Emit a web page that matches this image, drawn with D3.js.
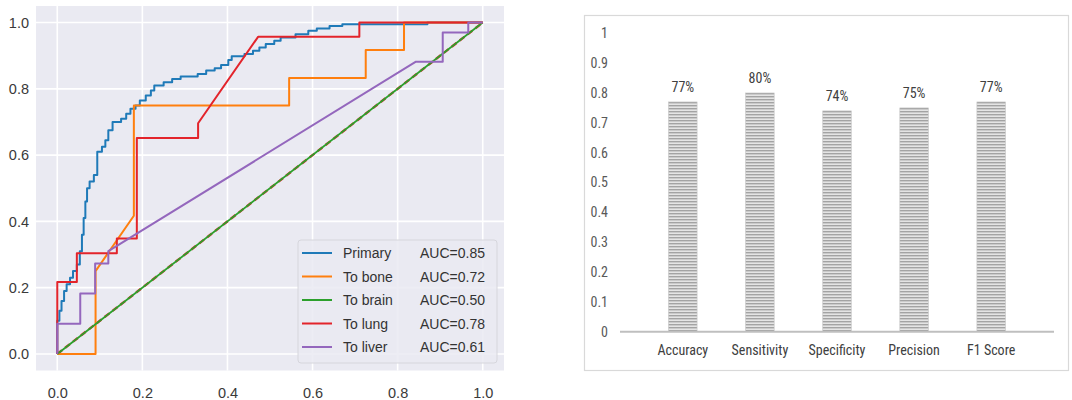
<!DOCTYPE html>
<html>
<head>
<meta charset="utf-8">
<script src="https://cdn.jsdelivr.net/npm/d3@7"></script>
<style>
  html, body { margin: 0; padding: 0; background: #fff; }
  svg { display: block; }
</style>
</head>
<body>
<svg id="chart" width="1072" height="400"></svg>
<script>
// ROC panel data (fpr, tpr corners)
const rocNames = ['Primary', 'To bone', 'To brain', 'To lung', 'To liver'];
const rocAuc = ['AUC=0.85', 'AUC=0.72', 'AUC=0.50', 'AUC=0.78', 'AUC=0.61'];

const primaryRoc = [
  [0,0],[0,0.10],[0.005,0.10],[0.005,0.13],[0.01,0.13],[0.01,0.16],[0.016,0.16],[0.016,0.19],
  [0.022,0.19],[0.022,0.21],[0.03,0.21],[0.03,0.23],[0.037,0.23],[0.037,0.25],[0.046,0.25],
  [0.046,0.27],[0.053,0.27],[0.053,0.31],[0.058,0.31],[0.058,0.36],[0.062,0.36],[0.062,0.41],
  [0.066,0.41],[0.066,0.46],[0.07,0.46],[0.07,0.50],[0.076,0.50],[0.076,0.52],[0.086,0.52],
  [0.086,0.54],[0.094,0.54],[0.094,0.61],[0.105,0.61],[0.105,0.625],[0.113,0.625],[0.113,0.645],
  [0.12,0.645],[0.12,0.675],[0.13,0.675],[0.13,0.70],[0.15,0.70],[0.15,0.71],[0.162,0.71],
  [0.162,0.725],[0.172,0.725],[0.172,0.74],[0.184,0.74],[0.184,0.75],[0.194,0.75],[0.194,0.765],
  [0.208,0.765],[0.208,0.78],[0.22,0.78],[0.22,0.795],[0.228,0.795],[0.228,0.81],[0.25,0.81],
  [0.25,0.82],[0.27,0.82],[0.27,0.83],[0.29,0.83],[0.29,0.837],[0.33,0.837],[0.33,0.845],
  [0.35,0.845],[0.35,0.855],[0.37,0.855],[0.37,0.862],[0.385,0.862],[0.385,0.872],[0.402,0.872],
  [0.402,0.887],[0.41,0.887],[0.41,0.898],[0.44,0.898],[0.44,0.905],[0.46,0.905],[0.46,0.915],
  [0.475,0.915],[0.475,0.925],[0.49,0.925],[0.49,0.935],[0.51,0.935],[0.51,0.945],[0.525,0.945],
  [0.525,0.955],[0.56,0.955],[0.56,0.965],[0.59,0.965],[0.59,0.975],[0.61,0.975],[0.61,0.982],
  [0.64,0.982],[0.64,0.99],[0.67,0.99],[0.67,0.995],[0.87,0.995],[0.87,1],[1,1]
];
const boneRoc = [
  [0,0],[0.09,0],[0.09,0.25],[0.18,0.417],[0.18,0.75],[0.545,0.75],[0.545,0.833],
  [0.725,0.833],[0.725,0.917],[0.815,0.917],[0.815,1],[1,1]
];
const brainRoc = [[0,0],[1,1]];
const lungRoc = [
  [0,0],[0,0.217],[0.046,0.217],[0.046,0.304],[0.14,0.304],[0.14,0.348],[0.187,0.348],
  [0.187,0.652],[0.331,0.652],[0.331,0.696],[0.472,0.957],[0.71,0.957],[0.71,1],[1,1]
];
const liverRoc = [
  [0,0],[0,0.091],[0.054,0.091],[0.054,0.182],[0.089,0.182],[0.089,0.273],[0.12,0.273],
  [0.12,0.31],[0.843,0.882],[0.906,0.882],[0.906,0.97],[0.966,0.97],[0.966,1],[1,1]
];
const chanceLine = [[0,0],[1,1]];
const rocTicks = [0, 0.2, 0.4, 0.6, 0.8, 1.0];

// Metrics panel data
const metricNames = ['Accuracy', 'Sensitivity', 'Specificity', 'Precision', 'F1 Score'];
const metricValues = [0.77, 0.80, 0.74, 0.75, 0.77];
const metricLabels = ['77%', '80%', '74%', '75%', '77%'];

const rocColors = ['#1f7ab8', '#ff7f0e', '#2ca02c', '#e3242b', '#9467bd'];
const rocData = [primaryRoc, boneRoc, brainRoc, lungRoc, liverRoc];

const svg = d3.select('#chart');

// ---------- left: ROC curves ----------
const x = d3.scaleLinear().domain([-0.05, 1.05]).range([36, 504]);
const y = d3.scaleLinear().domain([-0.05, 1.05]).range([370.5, 6]);

const left = svg.append('g');
left.append('rect')
  .attr('x', x(-0.05)).attr('y', y(1.05))
  .attr('width', x(1.05) - x(-0.05)).attr('height', y(-0.05) - y(1.05))
  .attr('fill', '#eaeaf2');

// grid
left.append('g').selectAll('line').data(rocTicks).join('line')
  .attr('x1', d => x(d)).attr('x2', d => x(d))
  .attr('y1', y(1.05)).attr('y2', y(-0.05))
  .attr('stroke', '#fff').attr('stroke-width', 1.6);
left.append('g').selectAll('line').data(rocTicks).join('line')
  .attr('y1', d => y(d)).attr('y2', d => y(d))
  .attr('x1', x(-0.05)).attr('x2', x(1.05))
  .attr('stroke', '#fff').attr('stroke-width', 1.6);

const tickFont = 'Liberation Sans, Arial, sans-serif';
const xAxis = left.append('g')
  .attr('transform', `translate(0,${y(-0.05)})`)
  .call(d3.axisBottom(x).tickValues(rocTicks).tickFormat(d3.format('.1f')).tickSize(0).tickPadding(17));
const yAxis = left.append('g')
  .attr('transform', `translate(${x(-0.05)},0)`)
  .call(d3.axisLeft(y).tickValues(rocTicks).tickFormat(d3.format('.1f')).tickSize(0).tickPadding(7));
[xAxis, yAxis].forEach(a => {
  a.select('.domain').remove();
  a.selectAll('text').attr('font-family', tickFont).attr('font-size', 14.5).attr('fill', '#3a3a3a');
});

const line = d3.line().x(d => x(d[0])).y(d => y(d[1]));
const curves = left.append('g');

// chance line under the brain curve
curves.append('path')
  .attr('d', line(chanceLine))
  .attr('fill', 'none').attr('stroke', '#e3242b')
  .attr('stroke-width', 2.4).attr('stroke-dasharray', '6,4');

rocData.forEach((pts, i) => {
  curves.append('path')
    .attr('d', line(pts))
    .attr('fill', 'none')
    .attr('stroke', rocColors[i])
    .attr('stroke-width', i === 2 ? 1.8 : 2)
    .attr('stroke-linejoin', 'round');
});

// legend
const lg = left.append('g').attr('transform', 'translate(298,240)');
lg.append('rect')
  .attr('width', 199).attr('height', 123).attr('rx', 3)
  .attr('fill', '#eaeaf2').attr('fill-opacity', 0.85)
  .attr('stroke', '#d6d6dc').attr('stroke-width', 1);
rocNames.forEach((name, i) => {
  const row = lg.append('g').attr('transform', `translate(0,${13 + i * 23.5})`);
  row.append('line')
    .attr('x1', 4).attr('x2', 34).attr('y1', 0).attr('y2', 0)
    .attr('stroke', rocColors[i]).attr('stroke-width', 2);
  row.append('text')
    .attr('x', 45).attr('y', 5)
    .attr('font-family', tickFont).attr('font-size', 14).attr('fill', '#333')
    .text(name);
  row.append('text')
    .attr('x', 187).attr('y', 5).attr('text-anchor', 'end')
    .attr('font-family', tickFont).attr('font-size', 14).attr('fill', '#333')
    .text(rocAuc[i]);
});

// ---------- right: metrics bar chart ----------
const right = svg.append('g');
right.append('rect')
  .attr('x', 584.5).attr('y', 15.5).attr('width', 484).attr('height', 355)
  .attr('fill', '#fff').attr('stroke', '#d9d9d9').attr('stroke-width', 1.2);

const defs = svg.append('defs');
const pat = defs.append('pattern')
  .attr('id', 'hatch').attr('patternUnits', 'userSpaceOnUse')
  .attr('width', 6).attr('height', 3);
pat.append('rect').attr('width', 6).attr('height', 3).attr('fill', '#e4e4e4');
pat.append('rect').attr('width', 6).attr('height', 1.4).attr('fill', '#a3a3a3');

const bx = d3.scaleBand().domain(metricNames).range([620, 1054]).padding(0.63);
const by = d3.scaleLinear().domain([0, 1]).range([331.7, 33.3]);

const barFont = '"Liberation Sans Narrow", "Roboto Condensed", "DejaVu Sans Condensed", Arial, sans-serif';

const byAxis = right.append('g')
  .attr('transform', 'translate(608,0)')
  .call(d3.axisLeft(by).ticks(10).tickFormat(d3.format('~g')).tickSize(0).tickPadding(0));
byAxis.select('.domain').remove();
byAxis.selectAll('text').attr('font-family', barFont).attr('font-size', 14).attr('fill', '#595959');

const bxAxis = right.append('g')
  .attr('transform', `translate(0,${by(0)})`)
  .call(d3.axisBottom(bx).tickSize(0).tickPadding(13));
bxAxis.select('.domain').remove();
bxAxis.selectAll('text').attr('font-family', barFont).attr('font-size', 14).attr('fill', '#404040');

right.append('g').selectAll('rect').data(metricNames).join('rect')
  .attr('x', d => bx(d))
  .attr('width', bx.bandwidth())
  .attr('y', (d, i) => by(metricValues[i]))
  .attr('height', (d, i) => by(0) - by(metricValues[i]))
  .attr('fill', 'url(#hatch)')
  .attr('stroke', '#c4c4c4').attr('stroke-width', 0.6);

right.append('line')
  .attr('x1', 620).attr('x2', 1054).attr('y1', by(0)).attr('y2', by(0))
  .attr('stroke', '#bfbfbf').attr('stroke-width', 2);

right.append('g').selectAll('text').data(metricNames).join('text')
  .attr('x', d => bx(d) + bx.bandwidth() / 2)
  .attr('y', (d, i) => by(metricValues[i]) - 10)
  .attr('text-anchor', 'middle')
  .attr('font-family', barFont).attr('font-size', 14).attr('fill', '#404040')
  .text((d, i) => metricLabels[i]);
</script>
</body>
</html>
